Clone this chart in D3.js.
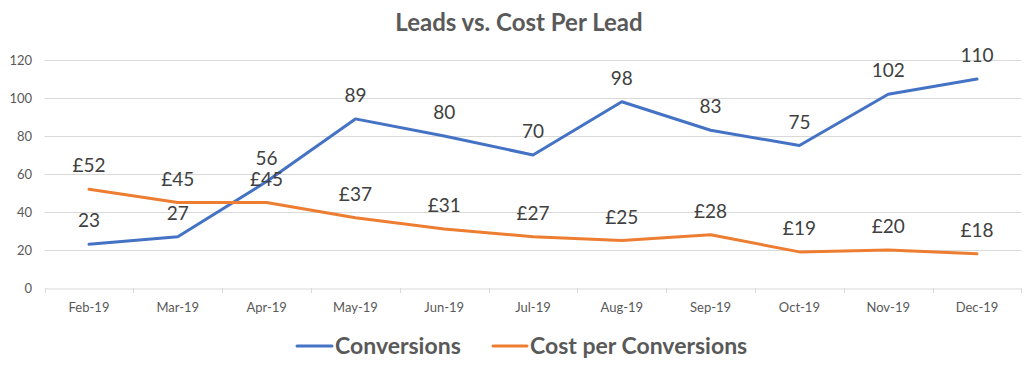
<!DOCTYPE html>
<html><head><meta charset="utf-8">
<script src="https://cdn.jsdelivr.net/npm/d3@7"></script>
<style>body{margin:0;background:#fff}svg{display:block}text{font-family:Lato,"Open Sans",sans-serif}</style>
</head><body><svg id="c" width="1036" height="377"></svg>
<script>
const categories = ["Feb-19","Mar-19","Apr-19","May-19","Jun-19","Jul-19","Aug-19","Sep-19","Oct-19","Nov-19","Dec-19"];
const conversions = [23,27,56,89,80,70,98,83,75,102,110];
const costPerConversion = [52,45,45,37,31,27,25,28,19,20,18];
const yTicks = [0,20,40,60,80,100,120];
const seriesNames = ["Conversions","Cost per Conversions"];
const colors = ["#4472C4","#ED7D31"];

const svg = d3.select("#c");
const m = {left:44.6, right:1021.4, top:60, bottom:288};
const x = d3.scaleBand().domain(categories).range([m.left, m.right]);
const y = d3.scaleLinear().domain([0,120]).range([m.bottom, m.top]);
const cx = d => x(d) + x.bandwidth()/2;

svg.append("text").attr("x",519).attr("y",31).attr("text-anchor","middle")
  .attr("font-size",24).attr("font-weight","bold").attr("fill","#595959").text("Leads vs. Cost Per Lead");

svg.append("g").selectAll("line").data(yTicks.filter(t=>t>0)).join("line")
  .attr("x1",m.left).attr("x2",m.right).attr("y1",d=>Math.round(y(d))+0.5).attr("y2",d=>Math.round(y(d))+0.5)
  .attr("stroke","#d9d9d9").attr("stroke-width",1);

svg.append("g").selectAll("text").data(yTicks).join("text")
  .attr("x",32).attr("y",d=>y(d)+4.5).attr("text-anchor","end").attr("font-size",13).attr("fill","#595959").text(d=>d);

const xa = svg.append("g").attr("transform",`translate(0,${Math.round(m.bottom)+0.5})`)
  .call(d3.axisBottom(x).tickSize(0).tickPadding(14));
xa.select(".domain").attr("stroke","#d9d9d9");
xa.selectAll("text").attr("font-size",13).attr("fill","#595959").attr("font-family","Lato,'Open Sans',sans-serif");
const bounds = categories.map(c=>x(c)).concat([m.right]);
svg.append("g").selectAll("line").data(bounds).join("line")
  .attr("x1",d=>Math.round(d)+0.5).attr("x2",d=>Math.round(d)+0.5)
  .attr("y1",Math.round(m.bottom)).attr("y2",Math.round(m.bottom)+5).attr("stroke","#d9d9d9");

const line = d3.line().x((d,i)=>cx(categories[i])).y(d=>y(d));
const series = [conversions, costPerConversion];
series.forEach((s,k)=>{
  svg.append("path").datum(s).attr("d",line).attr("fill","none").attr("stroke",colors[k])
    .attr("stroke-width",3).attr("stroke-linejoin","round").attr("stroke-linecap","round");
});
series.forEach((s,k)=>{
  svg.append("g").selectAll("text").data(s).join("text")
    .attr("x",(d,i)=>cx(categories[i])).attr("y",d=>y(d)-17)
    .attr("text-anchor","middle").attr("font-size",19).attr("fill","#404040")
    .text(d=> k===1 ? "£"+d : d);
});

const lg = [{x1:297,x2:332,tx:335},{x1:493,x2:527,tx:530}];
lg.forEach((l,k)=>{
  svg.append("line").attr("x1",l.x1).attr("x2",l.x2).attr("y1",346).attr("y2",346)
    .attr("stroke",colors[k]).attr("stroke-width",3).attr("stroke-linecap","round");
  svg.append("text").attr("x",l.tx).attr("y",354).attr("font-size",23).attr("font-weight","bold")
    .attr("fill","#595959").text(seriesNames[k]);
});
</script></body></html>
